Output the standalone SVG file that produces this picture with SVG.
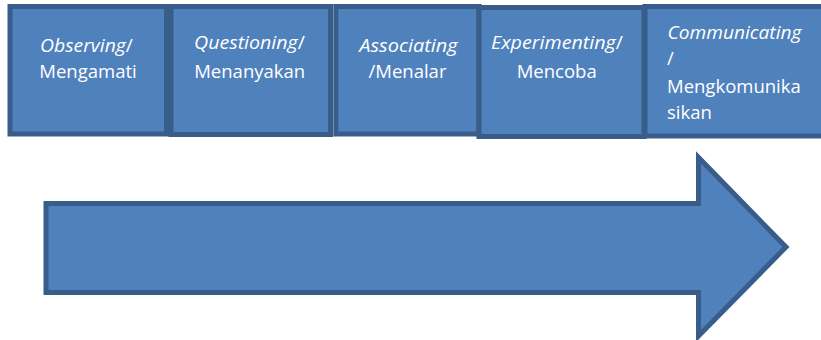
<svg xmlns="http://www.w3.org/2000/svg" width="821" height="340" viewBox="0 0 821 340">
<style>
.box{fill:#4F81BD;stroke:#385D8A;stroke-width:5;stroke-linejoin:miter}
.t{font-family:"Open Sans","Noto Sans","Liberation Sans",sans-serif;font-size:18.5px;fill:#FFFFFF}
.c{text-anchor:middle}
.i{font-style:italic}
</style>
<rect width="821" height="340" fill="#FFFFFF"/>
<g id="node-observing">
<rect class="box" x="10" y="6.5" width="156.5" height="127.5"/>
<text class="t" x="40" y="52" textLength="93" lengthAdjust="spacingAndGlyphs"><tspan class="i">Observing</tspan>/</text>
<text class="t c" x="88" y="78">Mengamati</text>
</g>
<g id="node-questioning">
<rect class="box" x="171" y="6.5" width="159.5" height="128"/>
<text class="t" x="194" y="49" textLength="111" lengthAdjust="spacingAndGlyphs"><tspan class="i">Questioning</tspan>/</text>
<text class="t c" x="249.7" y="78">Menanyakan</text>
</g>
<g id="node-associating">
<rect class="box" x="335.8" y="6.5" width="143.2" height="127.5"/>
<text class="t i" x="359.3" y="52" textLength="98.4" lengthAdjust="spacingAndGlyphs">Associating</text>
<text class="t c" x="407.5" y="78">/Menalar</text>
</g>
<g id="node-experimenting">
<rect class="box" x="479" y="7.5" width="165" height="129"/>
<text class="t" x="491" y="49" textLength="132" lengthAdjust="spacingAndGlyphs"><tspan class="i">Experimenting</tspan>/</text>
<text class="t c" x="556.7" y="78">Mencoba</text>
</g>
<g id="node-communicating">
<rect class="box" x="645" y="6.5" width="190" height="129.5"/>
<text class="t i" x="667.5" y="38.5" textLength="134" lengthAdjust="spacingAndGlyphs">Communicating</text>
<text class="t" x="667" y="65">/</text>
<text class="t" x="667" y="92.5">Mengkomunika</text>
<text class="t" x="667" y="118.5">sikan</text>
</g>
<g id="connectors">
<polygon id="arrow" class="box" points="46,203.5 698.5,203.5 698.5,157.5 786,247 698.5,336 698.5,292.5 46,292.5"/>
</g>
</svg>
